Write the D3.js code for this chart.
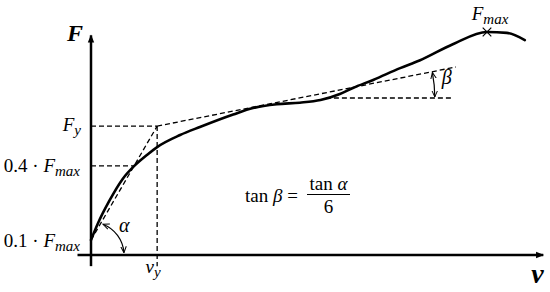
<html>

<head>
    <meta charset="utf-8">
    <script src="https://d3js.org/d3.v7.min.js"></script>
    <style>
        body { margin: 0; background: #fff; }
        text { font-family: "Liberation Serif", serif; fill: #000; }
    </style>
</head>

<body>
    <div id="my_dataviz"></div>
</body>
<script>

    // force-displacement curve (v and F in % of the axes)
    var curveV = [0, 1.5, 4, 7, 9.8, 12.5, 14.7, 19.8, 24.2, 31.6, 36, 41.3, 46.4, 51, 55.3, 58.2, 62.7, 68.7, 73, 80.4, 88, 92.4, 96.4];
    var curveF = [6.7, 14, 24, 34, 40.3, 45, 48.4, 53.8, 57.4, 63, 65.9, 67.6, 68.3, 69.5, 72.2, 74.9, 78.5, 83.8, 87.2, 94.5, 100, 99.6, 96.4];

    // characteristic levels
    var levelNames = ["Fy", "0.4", "0.1"];
    var levelValues = [57.8, 40, 6.7];
    var vy = 14.7;
    var Fmax = [88, 100];
    // second branch (slope tan(alpha)/6) and horizontal reference for beta
    var secantEnd = [81.1, 84.3];
    var betaFrom = 52.2, betaTo = 80.2, betaLevel = 70.4, betaAt = 76.4;

    var width = 550, height = 292;

    var svg = d3.select("#my_dataviz")
        .append("svg")
        .attr("width", width)
        .attr("height", height);

    var x = d3.scaleLinear().domain([0, 100]).range([91, 541]);
    var y = d3.scaleLinear().domain([0, 100]).range([255, 32]);

    // arrow heads
    var defs = svg.append("defs");
    defs.append("marker")
        .attr("id", "axisHead")
        .attr("viewBox", "0 0 10 10")
        .attr("refX", 9).attr("refY", 5)
        .attr("markerUnits", "userSpaceOnUse")
        .attr("markerWidth", 10).attr("markerHeight", 8)
        .attr("orient", "auto")
        .append("path")
        .attr("d", "M0,1 L10,5 L0,9 Z")
        .attr("fill", "#000");
    defs.append("marker")
        .attr("id", "thinHead")
        .attr("viewBox", "0 0 10 10")
        .attr("refX", 9).attr("refY", 5)
        .attr("markerUnits", "userSpaceOnUse")
        .attr("markerWidth", 7).attr("markerHeight", 7)
        .attr("orient", "auto-start-reverse")
        .append("path")
        .attr("d", "M0,1 L9,5 L0,9")
        .attr("fill", "none")
        .attr("stroke", "#000")
        .attr("stroke-width", 1.4);

    // axes
    svg.append("line")
        .attr("x1", x(-3)).attr("y1", y(0))
        .attr("x2", x(100.5)).attr("y2", y(0))
        .attr("stroke", "#000").attr("stroke-width", 2.5)
        .attr("marker-end", "url(#axisHead)");
    svg.append("line")
        .attr("x1", x(0)).attr("y1", y(-5))
        .attr("x2", x(0)).attr("y2", y(98.5))
        .attr("stroke", "#000").attr("stroke-width", 2.5)
        .attr("marker-end", "url(#axisHead)");

    var dashed = function (sel) {
        return sel.attr("stroke", "#000")
            .attr("stroke-width", 1.3)
            .attr("stroke-dasharray", "5,3")
            .attr("fill", "none");
    };

    // horizontal dashed guides to Fy and 0.4 Fmax
    svg.append("line").call(dashed)
        .attr("x1", x(0)).attr("y1", y(levelValues[0]))
        .attr("x2", x(vy)).attr("y2", y(levelValues[0]));
    svg.append("line").call(dashed)
        .attr("x1", x(0)).attr("y1", y(levelValues[1]))
        .attr("x2", x(9.8)).attr("y2", y(levelValues[1]));
    // vertical guide at vy
    svg.append("line").call(dashed)
        .attr("x1", x(vy)).attr("y1", y(levelValues[0]))
        .attr("x2", x(vy)).attr("y2", y(-5));
    // initial stiffness line
    svg.append("line").call(dashed)
        .attr("x1", x(0)).attr("y1", y(levelValues[2]))
        .attr("x2", x(vy)).attr("y2", y(levelValues[0]));
    // post-yield branch
    svg.append("line").call(dashed)
        .attr("x1", x(vy)).attr("y1", y(levelValues[0]))
        .attr("x2", x(secantEnd[0])).attr("y2", y(secantEnd[1]));
    // horizontal reference for beta
    svg.append("line").call(dashed)
        .attr("x1", x(betaFrom)).attr("y1", y(betaLevel))
        .attr("x2", x(betaTo)).attr("y2", y(betaLevel));

    // main curve
    var pts = curveV.map(function (v, i) { return [v, curveF[i]]; });
    svg.append("path")
        .datum(pts)
        .attr("fill", "none")
        .attr("stroke", "#000")
        .attr("stroke-width", 2.6)
        .attr("stroke-linecap", "round")
        .attr("d", d3.line()
            .x(function (d) { return x(d[0]); })
            .y(function (d) { return y(d[1]); })
            .curve(d3.curveMonotoneX));

    // Fmax cross
    svg.append("path")
        .attr("transform", "translate(" + x(Fmax[0]) + "," + y(Fmax[1]) + ")")
        .attr("d", d3.symbol().type(d3.symbolX).size(50)())
        .attr("fill", "none")
        .attr("stroke", "#000")
        .attr("stroke-width", 1.2);

    // alpha angle arc
    var pa = d3.path();
    pa.arc(x(0), y(0), 33, -1.2, -0.07, false);
    svg.append("path")
        .attr("d", pa.toString())
        .attr("fill", "none").attr("stroke", "#000").attr("stroke-width", 1.2)
        .attr("marker-start", "url(#thinHead)")
        .attr("marker-end", "url(#thinHead)");

    // beta angle arc (centred where the branch crosses the reference)
    var slope = (secantEnd[1] - levelValues[0]) / (secantEnd[0] - vy);
    var vCross = vy + (betaLevel - levelValues[0]) / slope;
    var cx = x(vCross), cy = y(betaLevel);
    var r = x(betaAt) - cx;
    var topY = y(levelValues[0] + (betaAt - vy) * slope);
    var a1 = Math.asin((topY - cy) / r);
    var pb = d3.path();
    pb.arc(cx, cy, r, a1 + 0.01, -0.008, false);
    svg.append("path")
        .attr("d", pb.toString())
        .attr("fill", "none").attr("stroke", "#000").attr("stroke-width", 1.2)
        .attr("marker-start", "url(#thinHead)")
        .attr("marker-end", "url(#thinHead)");

    // labels
    var label = function (xp, yp, anchor, parts) {
        var t = svg.append("text")
            .attr("x", xp).attr("y", yp)
            .attr("text-anchor", anchor);
        parts.forEach(function (p) {
            var s = t.append("tspan").text(p.t)
                .style("font-size", (p.size || 19) + "px");
            if (p.it) s.style("font-style", "italic");
            if (p.bold) s.style("font-weight", "bold");
            if (p.dy) s.attr("dy", p.dy);
        });
        return t;
    };

    label(x(0) - 8, y(96), "end", [{ t: "F", it: 1, bold: 1, size: 24 }]);
    label(x(99.2), y(-12.5), "middle", [{ t: "v", it: 1, bold: 1, size: 28 }]);

    label(x(0) - 10, y(levelValues[0]) + 5, "end", [{ t: "F", it: 1 }, { t: "y", it: 1, size: 15, dy: 4 }]);
    label(x(0) - 11, y(levelValues[1]) + 6, "end", [{ t: "0.4 · " }, { t: "F", it: 1 }, { t: "max", it: 1, size: 15, dy: 4 }]);
    label(x(0) - 11, y(levelValues[2]) + 7, "end", [{ t: "0.1 · " }, { t: "F", it: 1 }, { t: "max", it: 1, size: 15, dy: 4 }]);
    label(x(vy) - 4, y(-8), "middle", [{ t: "v", it: 1 }, { t: "y", it: 1, size: 15, dy: 4 }]);
    label(x(Fmax[0]) + 3, y(Fmax[1]) - 12, "middle", [{ t: "F", it: 1 }, { t: "max", it: 1, size: 15, dy: 4 }]);

    label(x(6.2), y(10.5), "start", [{ t: "α", it: 1, size: 20 }]);
    label(x(betaAt) + 7, y(betaLevel + 6.5), "start", [{ t: "β", it: 1, size: 20 }]);

    // formula
    var fx = x(48), fy = y(25.8);
    label(fx - 62, fy + 5, "start", [{ t: "tan " }, { t: "β", it: 1 }, { t: " =" }]);
    svg.append("line")
        .attr("x1", fx).attr("x2", fx + 43)
        .attr("y1", fy - 3).attr("y2", fy - 3)
        .attr("stroke", "#000").attr("stroke-width", 1.1);
    label(fx + 21.5, fy - 7, "middle", [{ t: "tan " }, { t: "α", it: 1 }]);
    label(fx + 21.5, fy + 16, "middle", [{ t: "6" }]);

</script>

</html>
